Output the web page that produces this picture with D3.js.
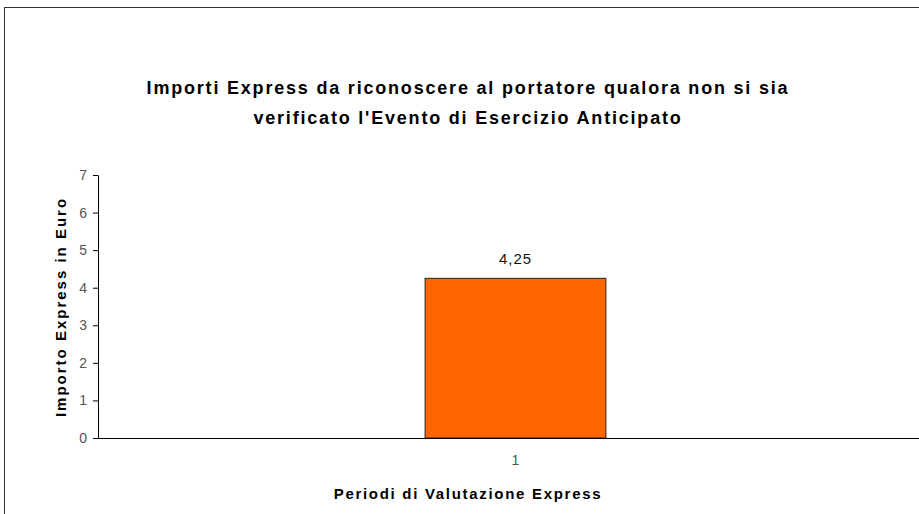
<!DOCTYPE html>
<html>
<head>
<meta charset="utf-8">
<script src="https://cdn.jsdelivr.net/npm/d3@7"></script>
<style>
  body { margin: 0; background: #fff; }
  svg { display: block; font-family: "Liberation Sans", Arial, sans-serif; }
</style>
</head>
<body>
<div class="chart"></div>
<script>
// data
var categories = ["1"];
var values = [4.25];
var yTicks = [0, 1, 2, 3, 4, 5, 6, 7];
var titleLines = ["Importi Express da riconoscere al portatore qualora non si sia",
                  "verificato l'Evento di Esercizio Anticipato"];

var W = 919, H = 514;
var svg = d3.select("div.chart").append("svg")
    .attr("width", W).attr("height", H);

// outer frame (only top and left visible)
svg.append("rect")
    .attr("x", 4.5).attr("y", 7.5)
    .attr("width", W + 20).attr("height", H + 20)
    .attr("fill", "none").attr("stroke", "#333").attr("stroke-width", 1);

var pLeft = 98, pRight = 933, pTop = 175, pBottom = 438;

var y = d3.scaleLinear().domain([0, 7]).range([pBottom, pTop]);
var x = d3.scaleBand().domain(categories).range([pLeft, pRight]).padding(0.644);

// y axis
var yAxis = svg.append("g")
    .attr("transform", "translate(" + pLeft + ",0)")
    .call(d3.axisLeft(y).tickValues(yTicks).tickFormat(d3.format("d"))
      .tickSize(5).tickSizeOuter(0).tickPadding(6));
yAxis.select(".domain").attr("stroke", "#000");
yAxis.selectAll(".tick line").attr("stroke", "#000");
yAxis.selectAll(".tick text").attr("fill", "#555").style("font-size", "14px");

// bars
svg.selectAll(".bar")
    .data(values)
    .enter()
    .append("rect")
    .attr("class", "bar")
    .attr("x", function(d, i) { return x(categories[i]); })
    .attr("y", function(d) { return y(d); })
    .attr("width", x.bandwidth())
    .attr("height", function(d) { return pBottom - y(d); })
    .attr("fill", "#FF6600")
    .attr("stroke", "#222")
    .attr("stroke-width", 1);

// x axis
var xAxis = svg.append("g")
    .attr("transform", "translate(0," + pBottom + ")")
    .call(d3.axisBottom(x).tickSize(0).tickPadding(17));
xAxis.select(".domain").attr("stroke", "#000");
xAxis.selectAll(".tick text").attr("fill", "#555").style("font-size", "14px");

// value labels
svg.selectAll(".lbl")
    .data(values)
    .enter()
    .append("text")
    .attr("x", function(d, i) { return x(categories[i]) + x.bandwidth() / 2; })
    .attr("y", function(d) { return y(d) - 14; })
    .attr("text-anchor", "middle")
    .style("font-size", "15px")
    .style("letter-spacing", "1px")
    .attr("fill", "#111")
    .text(function(d) { return String(d).replace(".", ","); });

// title
svg.selectAll(".title")
    .data(titleLines)
    .enter()
    .append("text")
    .attr("x", 468)
    .attr("y", function(d, i) { return 94 + i * 30; })
    .attr("text-anchor", "middle")
    .style("font-size", "18px")
    .style("letter-spacing", "1.8px")
    .style("font-weight", "bold")
    .attr("fill", "#000")
    .text(function(d) { return d; });

// axis titles
svg.append("text")
    .attr("transform", "translate(66,307) rotate(-90)")
    .attr("text-anchor", "middle")
    .style("font-size", "15px")
    .style("letter-spacing", "2px")
    .style("font-weight", "bold")
    .text("Importo Express in Euro");

svg.append("text")
    .attr("x", 468).attr("y", 499)
    .attr("text-anchor", "middle")
    .style("font-size", "15px")
    .style("letter-spacing", "1.7px")
    .style("font-weight", "bold")
    .text("Periodi di Valutazione Express");
</script>
</body>
</html>
